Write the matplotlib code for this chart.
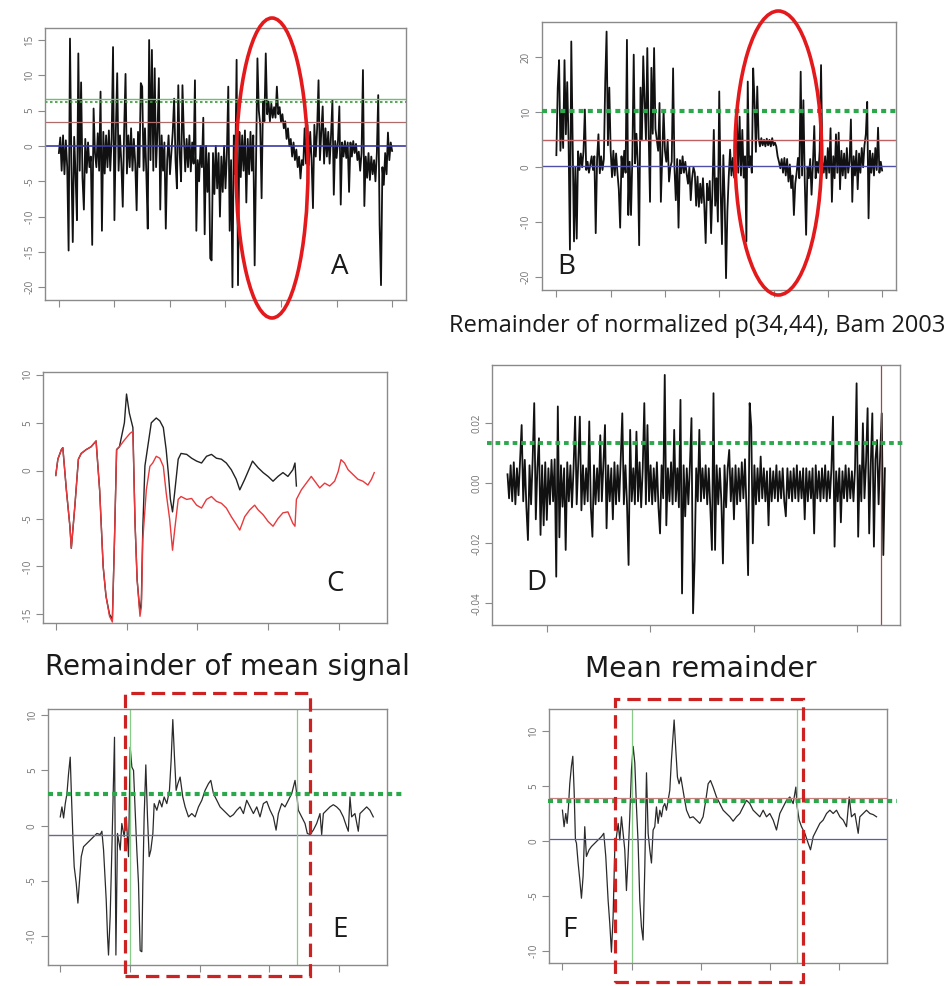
"""Six-panel remainder-signal comparison (A-F) with highlight marks."""
import matplotlib
matplotlib.use("Agg")
import matplotlib.pyplot as plt
import numpy as np
from matplotlib import patches
from matplotlib.transforms import blended_transform_factory

plt.rcParams["axes.unicode_minus"] = False
plt.rcParams["font.family"] = ["Open Sans", "DejaVu Sans"]

# ---------------- data ----------------
# panel A: raw signal, evenly sampled over x = 0..6
A_SIGNAL = [
    -1.0, 1.2, -3.5, 1.5, -4, 0.8, -3, -14.8, 15.2, -2.5,
    -13.6, 1.3, -4, -10.5, 13.1, -3.5, 9, -4.5, -9, 1,
    -3.8, 0.5, -3, -1.5, -14, 5.3, -1, -3, 1.8, -3.5,
    7.7, -12, 2, -3.9, 1.5, -3, 2.2, -3.5, 1, 14,
    -10.5, 2, 10.3, -3.5, 1.5, -2.5, -8.6, 2.2, 10.2, -3.9,
    1.5, -3, 2.5, -3.5, 1, -2.5, -9.1, 2, -3, 8.9,
    8.4, -3.5, 2.5, -4, -11.7, 15, -2, 13.6, -3.5, 11,
    -3, 2, 9.6, -9, 1.5, -3.5, 0.5, -11.7, -2, 1.5,
    -4, -1, 2, 6.7, -2, -6, 8.6, -1, -5, 8.6,
    1.5, -3.6, 1, -3, 1.5, -3.6, 0.5, -2.5, 9.3, -12,
    -2, -5, 0, -3, 4, -12.5, 0, -6.5, -1, -15.9,
    -16.2, -1, -6.8, 0, -6, -1, -10, -1.5, -6.5, 0,
    -6, -1, 8.4, -12, -2, -20, 1.5, -4, 12.2, -19.7,
    2, -4.4, 1.5, -3.5, 2.2, -8, 1, -4, 2, -3.5,
    1.5, -16.9, -2, 12.4, 5, 3, -7.4, 6.3, 3.5, 13.1,
    4.5, 6.3, 3.5, 6, 4, 5.5, 4, 8.4, 4.5, 5.5,
    3.4, 4.5, 2.5, 3.5, 1, 2.5, 0, 1, -1.5, 0.5,
    -2, -0.5, -3, -1.5, -4.6, -2, -2.7, 2.5, -2.5, 3,
    -2.7, 2, -2, -8.8, 3, -1.5, 2.5, 9.3, -2, 2,
    5.6, -2.5, 2.5, -1.5, 2, -2.5, 1.5, 6.5, -6.9, 0.7,
    -1.7, 0.7, 5.6, -8.3, 0.5, -1.5, 0.7, -1.7, 0.5, -6.5,
    0.5, -1.5, 0.7, -1, 0.3, -2, -0.8, -3.5, -1, 10.75,
    -8.5, -1.5, -4.5, -1, -4.8, -1.5, -4, -2, -5, -1,
    7.2, -11.2, -19.7, -3, -5.5, -1, -4, 1.9, -2, 0.5, -0.7,
]
A_LEVELS = {"zero": 0.0, "mean": 3.4, "thr_solid": 6.6, "thr_dotted": 6.25}

# panel B: normalized p(34,44), evenly sampled over x = 0..6
B_SIGNAL = [
    2.2, 14.4, 19.5, 3, 10, 3.5, 19.5, 6, 15.5, 4.6,
    -15, 22.9, 4.6, -13.5, 0, -13, 2.9, -0.5, 2.5, 0,
    2.9, 10.5, -0.5, 1, -1, 0.5, 2, -0.5, 2, -12,
    1.5, 6, -1.1, 2, -0.5, 1.5, 15.5, 24.7, 4, 14.5,
    3.1, -1.8, 3, -1.5, 2.5, -1, -4, -11, 2, -1.8,
    3, -1, 23.2, -8.7, 1, -8.7, 2, 20.5, 0.7, 6.1,
    0.7, -14.2, 14.5, 4.9, 20.2, 12, 5, 21.7, 6.1, -6.3,
    18.1, 6.1, 21.7, 7, 5, 3, 11.7, -6.3, 2, 10.4,
    3, 1, 5, -2.6, 0, 1, 18, 0, -6, 1.5,
    -11, 1.3, -1.1, 2, -1, 1, -1.2, -3, 0, -6,
    -2, 0, -1, -7, -1.7, -7.2, -3, -6.5, -2, -7,
    -13.8, -3, -6, -2.5, -12, -4, 6.8, -7, -2, -9.9,
    13.8, -4, -14, 2.2, -6, -20.2, -8, -1.7, 3.2, -1.5,
    1.7, -1.9, 2, 9.5, -1, 9.2, -1.5, 6.8, -1.9, 2,
    -13.5, 15.6, 0, 2, -1, 18, 11.9, 2.8, 14.7, 5.3,
    3.8, 5.3, 4, 5, 3.8, 5.2, 4, 5, 3.8, 5.3,
    4, 4.5, 3.8, 2, 1, -0.2, 1.5, -1, 1.7, -1.5,
    1.5, -2.6, 0.5, -3.8, -1.5, -8.7, -3, -1, 1.7, -2,
    17.4, -1.5, 12.2, -2.6, -12.3, 0, -2, 1.5, -5, 0.5,
    7.5, -2, 1, -1, 3, 18.6, 1, -1, 2, -2,
    3.5, -1, 7.1, -6.3, 2, -2, 6, -1, 6.3, -4,
    3, -1.5, 2.5, -2, 3.5, -1, 1, 8.7, -6.3, 2,
    -1.5, 3, -4, 2.5, -1, 3.5, 0, 4, 6, 11.9,
    -9.3, 3, -1, 2.5, -1.5, 3.5, -0.5, 7.2, -1, 1, -0.6,
]
B_LEVELS = {"zero": 0.3, "mean": 5.0, "thr": 10.2}

# panel C: two smoothed curves (black, red)
C_BLACK_X = [0.0, 0.03, 0.08, 0.10, 0.15, 0.20, 0.22, 0.27, 0.32, 0.36, 0.43, 0.50,
             0.57, 0.62, 0.67, 0.71, 0.76, 0.80, 0.83, 0.86, 0.90, 0.97, 1.00, 1.04,
             1.09, 1.12, 1.15, 1.19, 1.21, 1.23, 1.26, 1.31, 1.35, 1.42, 1.47, 1.52,
             1.56, 1.59, 1.62, 1.65, 1.68, 1.73, 1.77, 1.85, 1.92, 1.99, 2.06, 2.13,
             2.20, 2.27, 2.34, 2.41, 2.48, 2.55, 2.60, 2.67, 2.74, 2.78, 2.86, 2.93,
             3.00, 3.07, 3.14, 3.21, 3.28, 3.35, 3.38, 3.40]
C_BLACK = [-0.5, 1.2, 2.2, 2.4, -2.0, -5.8, -8.1, -3.7, 1.2, 1.8, 2.2, 2.5,
           3.1, -2.0, -10.0, -13.1, -15.0, -15.5, -7.2, 2.2, 2.5, 5.0, 8.0, 6.0,
           4.5, -5.4, -11.4, -14.8, -13.5, -6.0, 0.5, 3.0, 5.0, 5.5, 5.2, 4.5,
           2.2, -0.2, -3.0, -4.3, -2.3, 1.2, 1.8, 1.7, 1.3, 1.0, 0.8, 1.5,
           1.7, 1.3, 1.2, 0.8, 0.1, -0.9, -2.0, -0.9, 0.3, 1.0, 0.3, -0.2,
           -0.6, -1.1, -0.6, -0.2, -0.6, 0.1, 0.8, -1.6]
C_RED_X = [0.0, 0.03, 0.08, 0.10, 0.15, 0.20, 0.22, 0.27, 0.32, 0.36, 0.43, 0.50,
           0.57, 0.62, 0.67, 0.71, 0.76, 0.80, 0.83, 0.86, 0.90, 0.97, 1.05, 1.09,
           1.12, 1.15, 1.19, 1.21, 1.23, 1.28, 1.33, 1.37, 1.42, 1.47, 1.52, 1.56,
           1.61, 1.65, 1.68, 1.73, 1.77, 1.85, 1.92, 1.99, 2.06, 2.13, 2.20, 2.27,
           2.34, 2.41, 2.48, 2.55, 2.60, 2.67, 2.74, 2.81, 2.86, 2.93, 3.00, 3.07,
           3.14, 3.21, 3.28, 3.35, 3.38, 3.40, 3.47, 3.54, 3.61, 3.66, 3.73, 3.80,
           3.87, 3.94, 3.99, 4.03, 4.08, 4.13, 4.20, 4.27, 4.34, 4.41, 4.46, 4.50]
C_RED = [-0.5, 1.2, 2.2, 2.4, -2.0, -5.8, -8.1, -3.7, 1.2, 1.8, 2.2, 2.5,
         3.1, -2.0, -10.0, -13.1, -15.2, -15.8, -7.2, 2.2, 2.5, 3.2, 3.9, 4.1,
         -5.4, -11.4, -15.2, -14.2, -7.2, -2.0, 0.45, 0.8, 1.5, 1.3, 0.45, -2.3,
         -5.1, -8.3, -6.2, -3.0, -2.7, -3.0, -2.9, -3.6, -3.9, -3.0, -2.7, -3.2,
         -3.4, -3.9, -4.8, -5.6, -6.2, -4.8, -4.1, -3.6, -4.1, -4.6, -5.3, -5.8,
         -5.0, -4.4, -4.3, -5.5, -5.8, -3.0, -2.0, -1.3, -0.6, -1.1, -1.8, -1.3,
         -1.6, -1.1, -0.1, 1.15, 0.8, 0.1, -0.4, -0.9, -1.1, -1.5, -0.9, -0.2]

# panel D: remainder of normalized p(34,44), values in units of 1e-3
D_SIGNAL_MILLI = [
    3, -5, 6, -6, 7, -7, 5, -4, 8, 19.4,
    -6, 7.8, -7.8, -18.9, 6, -7, 8, 26.7, -12, 5,
    15, -17.2, 6, -14, 7, -12.2, 5, -7, 7.8, -6,
    8, -31.1, 25.6, -18, 6, -7.8, 5, -22.2, 7, -6,
    6, -8, 5, 22.2, -7, 7, 22.2, -9, 6, -7,
    5, -6, 20.6, -8, -17.8, 6, -7, 5, -6, 16,
    -6, 7, 19.4, -15, 6, -6, 5, -12, 7, -7,
    6, -6, 8, 23.3, -7, 6, -7, -27.2, 17.8, -6,
    5, -7, 17.2, -6, 7, -8, 5, 26.7, -7, 19.4,
    -6, 6, -7, 5, -6, 7, -8, -16.7, 6, -5,
    36.1, -14, 5, -6, 7, -7, 17.8, -6, 5, -8,
    27.8, -36.7, 6, -11, 5, -7, 6, 21.7, -43.3, -25.6,
    5, -6, 17.8, -6, 5, -5, 6, -7, 5, -9,
    -22.2, 30, -22.2, 6, -7, 5, -6, -26.7, 6, -8,
    5, 11.1, -6, 5, -12, 6, -7, 5, -6, 7,
    -5, 8, -9, -30.6, 26.7, 18.9, -20, 6, -7, 5,
    -6, 8.9, -5, 5, -6, 4, -14, 5, -6, 4,
    -5, 6, -6, 4, -5, 5, -6, -11, 5, -5,
    4, -6, 5, -5, 6, -6, 4, -5, 5, -12,
    5, -6, 4, -5, 5, -16.7, 6, -5, 4, -6,
    5, -5, 6, -6, 4, -5, 5, 22.2, -21.1, 4,
    -6, 5, -13, 4, -5, 6, -6, 5, -5, 4,
    -6, 5, 33.3, -17.8, 6, -6, 20, -5, 7, 25,
    -16.7, 6, 23.3, -21.1, 8, 14.4, -7, 10, 23.3, -23.9, 5,
]
D_X_RANGE = (-0.38, 3.27)
D_THR = 0.0133
D_MARK_X = 3.23

# panel E: remainder of mean signal
E_X = [0, 0.024, 0.048, 0.072, 0.096, 0.119, 0.143, 0.158, 0.181, 0.2, 0.229, 0.253,
       0.277, 0.301, 0.334, 0.382, 0.43, 0.478, 0.525, 0.573, 0.597, 0.621, 0.659,
       0.678, 0.692, 0.716, 0.74, 0.778, 0.798, 0.821, 0.86, 0.883, 0.917, 0.946,
       0.979, 1.003, 1.027, 1.051, 1.074, 1.098, 1.122, 1.146, 1.17, 1.184, 1.203,
       1.227, 1.251, 1.275, 1.299, 1.328, 1.347, 1.385, 1.423, 1.457, 1.49, 1.528,
       1.566, 1.59, 1.614, 1.638, 1.662, 1.686, 1.719, 1.757, 1.791, 1.839, 1.886,
       1.934, 1.982, 2.03, 2.077, 2.125, 2.159, 2.197, 2.245, 2.292, 2.34, 2.388,
       2.436, 2.483, 2.531, 2.579, 2.627, 2.674, 2.722, 2.77, 2.818, 2.865, 2.913,
       2.961, 3.009, 3.056, 3.095, 3.128, 3.176, 3.223, 3.271, 3.319, 3.367, 3.391,
       3.414, 3.462, 3.51, 3.543, 3.582, 3.629, 3.677, 3.725, 3.749, 3.773, 3.82,
       3.868, 3.916, 3.964, 4.011, 4.059, 4.107, 4.131, 4.155, 4.179, 4.226, 4.274,
       4.298, 4.346, 4.394, 4.441, 4.489]
E_Y = [0.8, 1.7, 0.7, 2.0, 2.9, 4.7, 6.2, 3.2, -1.0, -3.7, -5.2, -7.0,
       -4.9, -2.8, -1.9, -1.6, -1.3, -1.0, -0.7, -0.8, -0.5, -2.2, -6.7,
       -10.0, -11.7, -8.2, -2.2, 8.0, -11.7, -0.7, -2.2, 0.2, -1.0, 0.8,
       -2.8, 7.1, 5.3, 5.0, 1.4, -2.2, -5.2, -11.3, -11.4, -5.2, 0.8,
       5.5, 0.8, -2.8, -2.2, -0.7, 2.0, 1.4, 2.3, 1.7, 2.6, 2.0,
       3.2, 5.9, 9.6, 6.2, 3.2, 3.8, 4.4, 2.6, 1.7, 0.8, 1.1,
       0.8, 1.7, 2.3, 3.2, 3.8, 4.1, 2.9, 2.3, 1.7, 1.4, 1.1,
       0.8, 1.0, 1.4, 1.7, 1.1, 2.3, 1.7, 1.1, 1.7, 0.8, 2.0,
       2.2, 1.4, 0.8, -0.4, 1.1, 2.0, 1.7, 2.3, 2.9, 4.1, 2.9,
       1.4, 0.8, 0.2, -0.7, -0.8, -0.4, 0.2, 1.1, -0.8, 1.1, 1.4,
       1.7, 1.9, 1.7, 1.4, 0.8, -0.1, -0.5, 2.6, 0.8, 1.1, -0.5,
       1.1, 1.4, 1.7, 1.4, 0.8]
E_THR = 2.84
E_BASE = -0.84

# panel F: mean remainder
F_X = [0, 0.024, 0.048, 0.068, 0.087, 0.106, 0.13, 0.15, 0.169, 0.188, 0.203, 0.227,
       0.251, 0.275, 0.299, 0.323, 0.347, 0.386, 0.42, 0.468, 0.516, 0.564, 0.598,
       0.627, 0.661, 0.685, 0.709, 0.733, 0.757, 0.781, 0.806, 0.83, 0.854, 0.878,
       0.902, 0.926, 0.95, 0.974, 0.999, 1.023, 1.047, 1.071, 1.095, 1.119, 1.143,
       1.167, 1.192, 1.216, 1.24, 1.264, 1.288, 1.312, 1.336, 1.36, 1.384, 1.409,
       1.433, 1.457, 1.481, 1.505, 1.529, 1.553, 1.577, 1.602, 1.616, 1.64, 1.664,
       1.688, 1.713, 1.737, 1.761, 1.795, 1.843, 1.891, 1.939, 1.987, 2.035, 2.074,
       2.108, 2.142, 2.18, 2.229, 2.277, 2.325, 2.373, 2.422, 2.47, 2.518, 2.566,
       2.615, 2.663, 2.711, 2.759, 2.808, 2.856, 2.904, 2.952, 3.0, 3.049, 3.097,
       3.145, 3.193, 3.242, 3.29, 3.338, 3.377, 3.396, 3.425, 3.459, 3.507, 3.555,
       3.589, 3.628, 3.676, 3.724, 3.772, 3.821, 3.869, 3.917, 3.965, 4.014, 4.062,
       4.11, 4.149, 4.182, 4.231, 4.279, 4.303, 4.351, 4.399, 4.448, 4.496, 4.544]
F_Y = [2.8, 1.3, 2.5, 1.6, 3.1, 5.2, 6.8, 7.7, 4.6, 0.1, -0.2, -2.0,
       -3.5, -5.2, -3.2, 1.3, -1.4, -0.8, -0.5, -0.2, 0.1, 0.4, 0.7,
       -1.4, -5.4, -7.5, -10.1, -6.9, -0.8, 0.4, 1.6, 0.1, 2.2, 0.7,
       -0.8, -4.5, -1.4, 2.2, 6.5, 8.6, 7.1, 3.1, -0.2, -5.4, -7.8,
       -9.0, -2.3, 6.2, 0.7, -0.8, -2.0, 1.0, 1.3, 3.1, 1.6, 2.8,
       2.2, 3.1, 3.4, 2.8, 3.7, 4.6, 7.4, 9.8, 11.0, 8.3, 5.8,
       5.2, 5.8, 4.9, 4.0, 2.8, 2.1, 2.2, 1.9, 1.6, 2.2, 3.7,
       5.2, 5.5, 4.9, 4.0, 3.4, 2.8, 2.5, 2.2, 1.8, 2.2, 2.5,
       3.1, 3.7, 3.4, 2.8, 2.5, 2.2, 2.8, 2.2, 2.5, 1.9, 1.0,
       2.5, 3.1, 3.7, 4.0, 3.4, 4.9, 3.1, 1.9, 1.3, 0.7, -0.2,
       -0.8, 0.4, 1.0, 1.6, 1.9, 2.5, 2.8, 2.5, 2.8, 2.2, 1.9,
       1.3, 4.0, 2.2, 2.5, 0.7, 2.2, 2.5, 2.8, 2.5, 2.4, 2.2]
F_THR = 3.66
F_MEAN = 3.9
F_BASE = 0.15
EF_WINDOW = (1.0, 3.4)

TITLE_D = "Remainder of normalized p(34,44), Bam 2003"
TITLE_E = "Remainder of mean signal"
TITLE_F = "Mean remainder"

# ---------------- styling ----------------
W, H = 953, 986
BOX = "#8a8a8a"
SIG = "#111111"
GREEN_DOT = "#2ca84c"
RED_MARK = "#e3191c"


def fx(px):
    return px / W


def fy(py):
    return 1 - py / H


def add_axes(fig, x0, y0, x1, y1):
    return fig.add_axes([fx(x0), fy(y1), fx(x1 - x0), (y1 - y0) / H])


def style(ax, xticks, yticks, ylabels, xlim, ylim):
    for s in ax.spines.values():
        s.set_color(BOX)
        s.set_linewidth(1.0)
    ax.set_xlim(*xlim)
    ax.set_ylim(*ylim)
    ax.set_xticks(xticks)
    ax.set_xticklabels([])
    ax.set_yticks(yticks)
    ax.set_yticklabels(ylabels, rotation=90, va="center")
    ax.tick_params(length=5, width=0.8, color=BOX, labelsize=7,
                   labelcolor="#707070", pad=2)


def thick_dotted(ax, y, x0=0.0, x1=1.0, lw=3.0):
    tr = blended_transform_factory(ax.transAxes, ax.transData)
    ax.plot([x0, x1], [y, y], transform=tr, color=GREEN_DOT, lw=lw,
            linestyle=(0, (1.2, 1.0)), clip_on=False, zorder=5)


fig = plt.figure(figsize=(W / 100, H / 100), dpi=100)

# ---- A ----
ax = add_axes(fig, 45, 28, 406, 300)
xa = np.linspace(0, 6, len(A_SIGNAL))
ax.plot(xa, A_SIGNAL, color=SIG, lw=1.3)
ax.axhline(A_LEVELS["zero"], color="#3a3aa8", lw=1.2)
ax.axhline(A_LEVELS["mean"], color="#b06a6a", lw=0.9)
ax.axhline(A_LEVELS["thr_solid"], color="#6cc06c", lw=1.0)
ax.axhline(A_LEVELS["thr_dotted"], color="#3a9a3a", lw=1.2, linestyle=(0, (1.5, 1.5)))
style(ax, range(7), [-20, -15, -10, -5, 0, 5, 10, 15],
      ["-20", "-15", "-10", "-5", "0", "5", "10", "15"], (-0.25, 6.25), (-21.8, 16.7))

# ---- B ----
ax = add_axes(fig, 541.7, 21.7, 895.7, 290)
xb = np.linspace(0, 6, len(B_SIGNAL))
ax.plot(xb, B_SIGNAL, color=SIG, lw=1.3)
ax.axhline(B_LEVELS["zero"], color="#5050a8", lw=1.0)
ax.axhline(B_LEVELS["mean"], color="#c06060", lw=1.0)
thick_dotted(ax, B_LEVELS["thr"])
style(ax, range(7), [-20, -10, 0, 10, 20], ["-20", "-10", "0", "10", "20"],
      (-0.27, 6.25), (-22.35, 26.5))

# ---- C ----
ax = add_axes(fig, 43, 372, 387, 623)
ax.plot(C_BLACK_X, C_BLACK, color="#222222", lw=1.0)
ax.plot(C_RED_X, C_RED, color="#e8393c", lw=1.0)
style(ax, range(5), [-15, -10, -5, 0, 5, 10], ["-15", "-10", "-5", "0", "5", "10"],
      (-0.18, 4.68), (-15.9, 10.3))

# ---- D ----
ax = add_axes(fig, 492.3, 365, 900, 625)
xd = np.linspace(D_X_RANGE[0], D_X_RANGE[1], len(D_SIGNAL_MILLI))
ax.plot(xd, np.array(D_SIGNAL_MILLI) * 1e-3, color=SIG, lw=1.3)
ax.axvline(D_MARK_X, color="#a04848", lw=0.9)
thick_dotted(ax, D_THR, -0.013, 1.007, lw=2.8)
style(ax, range(4), [-0.04, -0.02, 0.0, 0.02], ["-0.04", "-0.02", "0.00", "0.02"],
      (-0.527, 3.416), (-0.0472, 0.0394))

# ---- E ----
ax = add_axes(fig, 47.7, 709.3, 387.3, 965)
ax.plot(E_X, E_Y, color="#2a2a2a", lw=0.9)
ax.axhline(E_BASE, color="#6a6a88", lw=1.0)
for xv in EF_WINDOW:
    ax.axvline(xv, color="#88cc88", lw=0.9)
thick_dotted(ax, E_THR, 0.0, 1.047)
style(ax, range(5), [-10, -5, 0, 5, 10], ["-10", "-5", "0", "5", "10"],
      (-0.18, 4.69), (-12.6, 10.53))

# ---- F ----
ax = add_axes(fig, 549.3, 709.3, 887.3, 962.7)
ax.plot(F_X, F_Y, color="#2a2a2a", lw=0.9)
ax.axhline(F_BASE, color="#5a5ab4", lw=0.9)
ax.axhline(F_MEAN, color="#c88080", lw=0.9)
for xv in EF_WINDOW:
    ax.axvline(xv, color="#88cc88", lw=0.9)
thick_dotted(ax, F_THR, -0.004, 1.03)
style(ax, range(5), [-10, -5, 0, 5, 10], ["-10", "-5", "0", "5", "10"],
      (-0.19, 4.7), (-11.06, 11.97))

# ---- highlight marks (figure coordinates) ----
for cx, cy, w, h in [(272, 168, 72, 300), (778.3, 153, 86.7, 284)]:
    fig.add_artist(patches.Ellipse((fx(cx), fy(cy)), w / W, h / H, fill=False,
                                   edgecolor=RED_MARK, lw=2.6,
                                   transform=fig.transFigure, zorder=10))
for x0, y0, x1, y1 in [(125, 692.7, 310, 976), (615, 699.3, 803.3, 981.7)]:
    fig.add_artist(patches.Rectangle((fx(x0), fy(y1)), (x1 - x0) / W, (y1 - y0) / H,
                                     fill=False, edgecolor="#cc2222", lw=2.3,
                                     linestyle=(0, (4.2, 2.2)),
                                     transform=fig.transFigure, zorder=10))

# ---- panel letters and titles ----
for letter, px, py in [("A", 340, 267), ("B", 566, 267), ("C", 335.5, 584),
                       ("D", 536, 582.5), ("E", 340, 930), ("F", 569.5, 930)]:
    fig.text(fx(px), fy(py), letter, ha="center", va="center", fontsize=20,
             color="#1a1a1a")

fig.text(fx(697), fy(332), TITLE_D, ha="center", va="baseline", fontsize=17,
         color="#1a1a1a")
fig.text(fx(227.5), fy(675), TITLE_E, ha="center", va="baseline", fontsize=20,
         color="#1a1a1a", family=["DejaVu Sans"])
fig.text(fx(700.8), fy(676.7), TITLE_F, ha="center", va="baseline", fontsize=20.3,
         color="#1a1a1a", family=["DejaVu Sans"])

fig.savefig("out.png", dpi=100)
